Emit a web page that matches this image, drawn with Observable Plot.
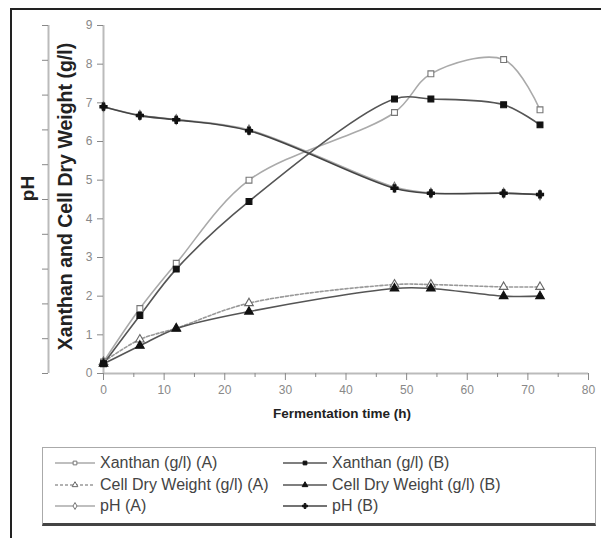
<!DOCTYPE html>
<html>
<head>
<meta charset="utf-8">
<script src="https://cdn.jsdelivr.net/npm/d3@7"></script>
<script src="https://cdn.jsdelivr.net/npm/@observablehq/plot@0.6"></script>
<style>
  body { margin: 0; background: #fff; font-family: "Liberation Sans", Arial, sans-serif; }
  #wrap { position: relative; width: 601px; height: 538px; overflow: hidden; }
  #frame { position: absolute; left: 10px; top: 8px; width: 620px; height: 560px;
           border-left: 2px solid #222; border-top: 2px solid #222; }
  #chart { position: absolute; left: 0; top: 0; }
  #legend { position: absolute; left: 42px; top: 447px; width: 554px; height: 79px;
            border: 1px solid #aaa; border-bottom: 3px solid #444; box-sizing: border-box; }
  .item { position: absolute; display: flex; align-items: center; font-size: 16px; color: #444; white-space: nowrap; }
  .item svg { margin-right: 5px; }
</style>
</head>
<body>
<div id="wrap">
  <div id="frame"></div>
  <div id="chart"></div>
  <div id="legend"></div>
</div>
<script>
// ---- data ----
const time = [0, 6, 12, 24, 48, 54, 66, 72];
const xanthanA = [0.3, 1.68, 2.85, 5.0, 6.75, 7.75, 8.12, 6.82];
const xanthanB = [0.25, 1.5, 2.7, 4.45, 7.1, 7.1, 6.95, 6.43];
const cdwA = [0.3, 0.88, 1.17, 1.82, 2.3, 2.3, 2.24, 2.24];
const cdwB = [0.25, 0.72, 1.16, 1.6, 2.2, 2.2, 2.0, 2.0];
const phA = [6.9, 6.68, 6.57, 6.3, 4.82, 4.67, 4.67, 4.62];
const phB = [6.9, 6.67, 6.56, 6.28, 4.79, 4.66, 4.66, 4.63];
const xTicks = [0, 10, 20, 30, 40, 50, 60, 70, 80];
const xMinorTicks = [5, 15, 25, 35, 45, 55, 65, 75];
const yTicks = [0, 1, 2, 3, 4, 5, 6, 7, 8, 9];
const pHAxisTicks = [0, 0.9, 1.8, 2.7, 3.6, 4.5, 5.4, 6.3, 7.2, 8.1, 9];
const xTitle = "Fermentation time (h)";
const yTitle = "Xanthan and Cell Dry Weight (g/l)";
const y2Title = "pH";

const seriesNames = ["Xanthan (g/l) (A)", "Xanthan (g/l) (B)", "Cell Dry Weight (g/l) (A)", "Cell Dry Weight (g/l) (B)", "pH (A)", "pH (B)"];
const seriesValues = [xanthanA, xanthanB, cdwA, cdwB, phA, phB];
const styles = [
  {stroke: "#aaa", dash: null, symbol: "square", fill: "white", mstroke: "#777", r: 3.3},
  {stroke: "#555", dash: null, symbol: "square", fill: "#111", mstroke: "#111", r: 3.3},
  {stroke: "#999", dash: "3,2", symbol: "triangle", fill: "white", mstroke: "#666", r: 3.2},
  {stroke: "#555", dash: null, symbol: "triangle", fill: "#111", mstroke: "#111", r: 3.2},
  {stroke: "#aaa", dash: null, symbol: "diamond", fill: "white", mstroke: "#777", r: 3.0},
  {stroke: "#444", dash: null, symbol: "cross", fill: "#111", mstroke: "#111", r: 3.0}
];

const series = seriesNames.map((name, i) => time.map((t, j) => ({name, t, v: seriesValues[i][j]})));
const drawOrder = [0, 2, 4, 1, 3, 5];

const marks = [];
// axis lines
marks.push(Plot.ruleX([0], {stroke: "#bbb", strokeWidth: 2, dx: -55}));
marks.push(Plot.ruleX([0], {stroke: "#bbb", strokeWidth: 2}));
marks.push(Plot.ruleY([0], {stroke: "#bbb", strokeWidth: 2}));
// axes
marks.push(Plot.axisX(xTicks, {tickSize: 7, tickPadding: 5, fontSize: 12, fill: "#888", stroke: "#888", label: null}));
marks.push(Plot.axisX(xMinorTicks, {tickSize: 4, tickFormat: () => "", stroke: "#888", label: null}));
marks.push(Plot.axisY(yTicks, {tickSize: 6, tickPadding: 5, fontSize: 12, fill: "#888", stroke: "#888", label: null}));
marks.push(Plot.axisY(pHAxisTicks, {tickSize: 6, dx: -55, tickFormat: () => "", stroke: "#888", label: null}));
// titles
marks.push(Plot.text([yTitle], {frameAnchor: "left", textAnchor: "middle", lineAnchor: "middle", rotate: -90, dx: -38, dy: -3, fontSize: 19.5, fontWeight: "bold", fill: "#222"}));
marks.push(Plot.text([y2Title], {frameAnchor: "left", textAnchor: "middle", lineAnchor: "middle", rotate: -90, dx: -76, dy: -11, fontSize: 19, fontWeight: "bold", fill: "#222"}));
marks.push(Plot.text([xTitle], {frameAnchor: "bottom", lineAnchor: "middle", dy: 40, dx: -4, fontSize: 13.5, fontWeight: "bold", fill: "#222"}));
// series
for (const i of drawOrder) {
  const s = styles[i];
  marks.push(Plot.line(series[i], {x: "t", y: "v", curve: "catmull-rom", stroke: s.stroke, strokeWidth: 1.6, strokeDasharray: s.dash}));
}
for (const i of drawOrder) {
  const s = styles[i];
  marks.push(Plot.dot(series[i], {x: "t", y: "v", symbol: () => s.symbol, r: s.r, fill: s.fill, stroke: s.mstroke, strokeWidth: 1.1}));
}

const chart = Plot.plot({
  width: 601,
  height: 430,
  marginLeft: 103,
  marginRight: 13,
  marginTop: 25,
  marginBottom: 57,
  style: {fontFamily: "'Liberation Sans', Arial, sans-serif", background: "transparent"},
  x: {domain: [0, 80], axis: null},
  y: {domain: [0, 9], axis: null},
  symbol: {type: "identity"},
  marks
});
document.getElementById("chart").appendChild(chart);

// ---- legend ----
const legend = document.getElementById("legend");
const cols = [{left: 12, w: 40}, {left: 240, w: 44}];
const rows = [15, 37, 58];
seriesNames.forEach((name, i) => {
  const col = cols[i % 2], row = rows[Math.floor(i / 2)];
  const s = styles[i];
  const item = document.createElement("div");
  item.className = "item";
  item.style.left = col.left + "px";
  item.style.top = (row - 10) + "px";
  item.style.height = "20px";
  const svg = d3.create("svg").attr("width", col.w).attr("height", 12);
  svg.append("line").attr("x1", 0).attr("x2", col.w).attr("y1", 6).attr("y2", 6)
    .attr("stroke", s.stroke).attr("stroke-width", 1.6).attr("stroke-dasharray", s.dash);
  const symMap = {square: d3.symbolSquare, triangle: d3.symbolTriangle, diamond: d3.symbolDiamond, cross: d3.symbolCross};
  svg.append("path").attr("d", d3.symbol(symMap[s.symbol], 14)())
    .attr("transform", `translate(${col.w / 2},6)`)
    .attr("fill", s.fill).attr("stroke", s.mstroke).attr("stroke-width", 1);
  item.appendChild(svg.node());
  const span = document.createElement("span");
  span.textContent = name;
  item.appendChild(span);
  legend.appendChild(item);
});
</script>
</body>
</html>
